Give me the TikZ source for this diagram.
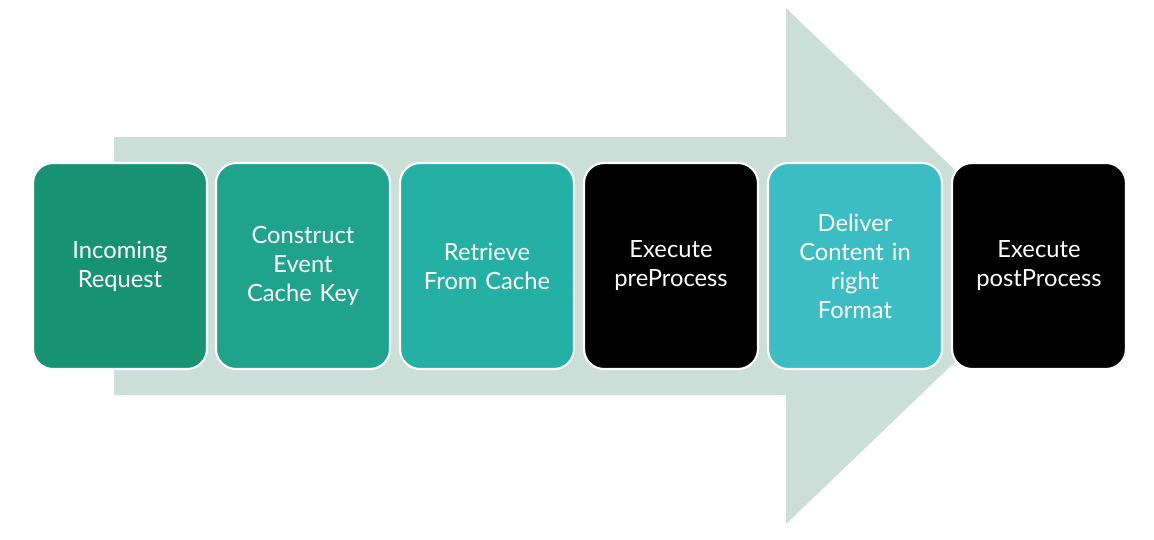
\documentclass[tikz,border=0pt]{standalone}
\usepackage{fontspec}
\setmainfont{Lato}
\definecolor{arrowgray}{HTML}{CCDED8}
\definecolor{tealA}{HTML}{179373}
\definecolor{tealB}{HTML}{1FA38C}
\definecolor{tealC}{HTML}{25B0A5}
\definecolor{tealD}{HTML}{3CBDC4}
\begin{document}
\begin{tikzpicture}[x=0.02cm, y=-0.02cm,
        stepbox/.style={rounded corners=0.4cm, draw=white, line width=1.2pt,
            minimum width=3.48cm, minimum height=4.12cm, text width=3.2cm,
            align=center, text=white, font=\fontsize{13.5}{16.5}\selectfont}]
            \useasboundingbox (0,0) rectangle (1154,539);
            \fill[arrowgray] (114,137) -- (786,137) -- (786,8) -- (1055,266)
                -- (786,524) -- (786,395) -- (114,395) -- cycle;

            \node[stepbox, fill=tealA] (inc) at (120,266) {Incoming\\Request};
            \node[stepbox, fill=tealB] (key) at (303,266) {Construct\\Event\\Cache Key};
            \node[stepbox, fill=tealC] (ret) at (487,266) {Retrieve\\From Cache};
            \node[stepbox, fill=black] (pre) at (671,266) {Execute\\preProcess};
            \node[stepbox, fill=tealD] (del) at (855,266) {Deliver\\Content in\\right\\Format};
            \node[stepbox, fill=black] (post) at (1039,266) {Execute\\postProcess};
        \end{tikzpicture}
\end{document}
